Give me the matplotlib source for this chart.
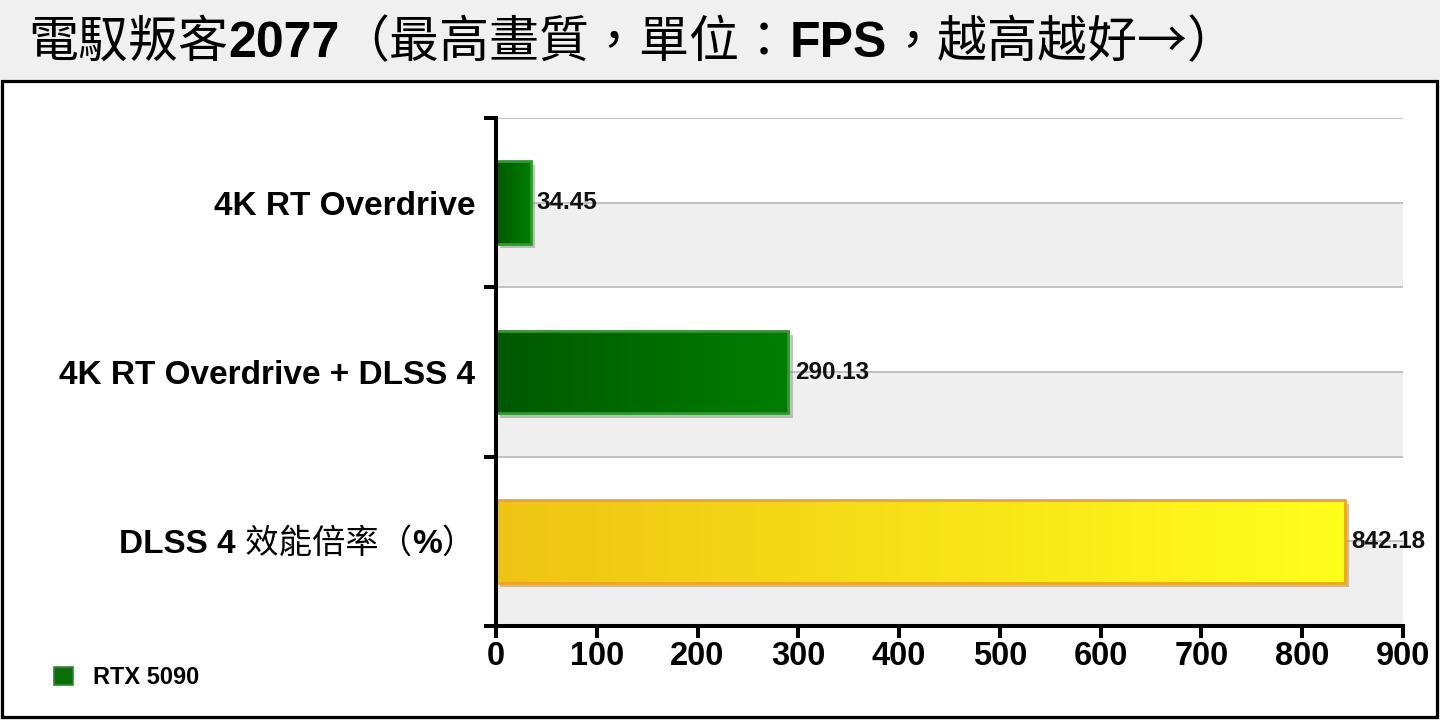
import numpy as np
import matplotlib
matplotlib.use('Agg')
import matplotlib.pyplot as plt
from matplotlib.patches import Rectangle, Patch
from matplotlib.colors import LinearSegmentedColormap
import matplotlib.patheffects as pe
from matplotlib.transforms import IdentityTransform

# ---------------- data ----------------
categories = ['4K RT Overdrive', '4K RT Overdrive + DLSS 4', 'DLSS 4 效能倍率（%）']
category_pieces = [
    [('4K RT Overdrive', 'bold')],
    [('4K RT Overdrive + DLSS 4', 'bold')],
    [('DLSS 4', 'bold'), (' 效能倍率（', 'normal'), ('%', 'bold'), ('）', 'normal')],
]
values = [34.45, 290.13, 842.18]
value_labels = ['34.45', '290.13', '842.18']
xticks = [0, 100, 200, 300, 400, 500, 600, 700, 800, 900]
xtick_labels = ['0', '100', '200', '300', '400', '500', '600', '700', '800', '900']
legend_label = 'RTX 5090'
title_pieces = [('電馭叛客', 'normal'), ('2077', 'bold'), ('（最高畫質，單位：', 'normal'),
                ('FPS', 'bold'), ('，越高越好→）', 'normal')]

# ---------------- style ----------------
FAM = ['Liberation Sans', 'Noto Sans CJK TC', 'DejaVu Sans']
CJK_FAM = ['Noto Sans CJK TC', 'Liberation Sans', 'DejaVu Sans']
plt.rcParams['font.family'] = FAM

bar_grad = [('#005800', '#007e00'), ('#005800', '#007e00'), ('#eec414', '#ffff1c')]
bar_edges = ['#2c9a2c', '#2c9a2c', '#f2a320']

W, H = 1440, 720
fig = plt.figure(figsize=(14.4, 7.2), dpi=100, facecolor='#f0f0f0')

# white framed panel
fig.patches.append(Rectangle((2 / W, 3 / H), (1437 - 2) / W, (717 - 81) / H,
                             transform=fig.transFigure, facecolor='white',
                             edgecolor='black', lw=2.3, zorder=-1))

ax = fig.add_axes([496 / W, (720 - 626) / H, (1403 - 496) / W, (626 - 118) / H])
ax.set_facecolor('none')
ax.set_zorder(1)

ypos = np.arange(len(categories))
bar_h = 0.49

# alternating bands and gridlines
for i in ypos:
    ax.axhspan(i, i + 0.5, color='#efefef', zorder=0, lw=0)
for g in np.arange(-0.5, len(categories) + 0.01, 0.5):
    ax.axhline(g, color='#b8b8b8', lw=1.2, zorder=0.6)

bars = ax.barh(ypos, values, height=bar_h, color=[c[1] for c in bar_grad],
               edgecolor='none', zorder=2)
for b in bars:
    b.set_path_effects([pe.SimplePatchShadow(offset=(3, -3), shadow_rgbFace='#8a8a8a', alpha=0.5),
                        pe.Normal()])

grad = np.linspace(0, 1, 256).reshape(1, -1)
for b, (c0, c1) in zip(bars, bar_grad):
    cmap = LinearSegmentedColormap.from_list('g', [c0, c1])
    x0, y0 = b.get_x(), b.get_y()
    w, h = b.get_width(), b.get_height()
    im = ax.imshow(grad, cmap=cmap, aspect='auto', interpolation='bilinear',
                   extent=(x0, x0 + w, y0 + h, y0), zorder=2.1)
    im.set_clip_path(b)

ax.barh(ypos, values, height=bar_h, fill=False, edgecolor=bar_edges, lw=2.0, zorder=2.3)

for y, v, lbl in zip(ypos, values, value_labels):
    ax.annotate(lbl, (v, y), xytext=(4.5, 0), textcoords='offset points',
                ha='left', va='center', fontsize=17.5, fontweight='bold',
                color='#111111', zorder=5, annotation_clip=False)

ax.set_xlim(0, 900)
ax.set_ylim(len(categories) - 0.5, -0.5)
ax.set_xticks(xticks)
ax.set_xticklabels(xtick_labels, fontsize=23.5, fontweight='bold')
ax.set_yticks(np.arange(-0.5, len(categories), 1.0))
ax.set_yticklabels([])
ax.tick_params(axis='both', direction='out', length=8.6, width=2.9, color='black')
ax.tick_params(axis='x', pad=2.0)
for s in ['top', 'right']:
    ax.spines[s].set_visible(False)
for s in ['left', 'bottom']:
    ax.spines[s].set_linewidth(2.9)
    ax.spines[s].set_color('black')
    ax.spines[s].set_zorder(3)

# ---------------- mixed-weight text helpers ----------------
renderer = fig.canvas.get_renderer()


def _w(s, weight, size, fam):
    t = fig.text(0, 0, s, fontsize=size, fontweight=weight, family=fam,
                 transform=IdentityTransform())
    w = t.get_window_extent(renderer).width
    t.remove()
    return w


def advance(s, weight, size, fam):
    return _w('I' + s + 'I', weight, size, fam) - _w('II', weight, size, fam)


def draw_pieces(pieces, x, y, size, ha='left', color='black', cjk_normal=False):
    fams = [CJK_FAM if (cjk_normal and wt == 'normal') else FAM for s, wt in pieces]
    advs = [advance(s, wt, size, f) for (s, wt), f in zip(pieces, fams)]
    total = sum(advs)
    if ha == 'right':
        x = x - total
    for (s, wt), a, f in zip(pieces, advs, fams):
        fig.text(x, y, s, fontsize=size, fontweight=wt, family=f, color=color,
                 transform=IdentityTransform(), ha='left', va='baseline', zorder=5)
        x += a
    return total


# y category labels
lab_size = 24
cap = 0.716 * lab_size * 100 / 72
for i, pieces in enumerate(category_pieces):
    cy = ax.transData.transform((0, ypos[i]))[1]
    draw_pieces(pieces, 475, cy - cap / 2, lab_size, ha='right', color='#000000')

# title
draw_pieces(title_pieces, 28, 720 - 57, 36, ha='left', color='#000000', cjk_normal=True)

# legend
fig.legend(handles=[Patch(facecolor='#0a6e0a', edgecolor='#2a8a2a', lw=1.2)],
           labels=[legend_label], loc='center left',
           bbox_to_anchor=(54 / W, 1 - 678 / H), frameon=False,
           prop={'weight': 'bold', 'size': 17}, handlelength=0.8, handleheight=0.8,
           handletextpad=0.85, borderpad=0, borderaxespad=0)

fig.savefig('out.png', dpi=100, facecolor=fig.get_facecolor())
